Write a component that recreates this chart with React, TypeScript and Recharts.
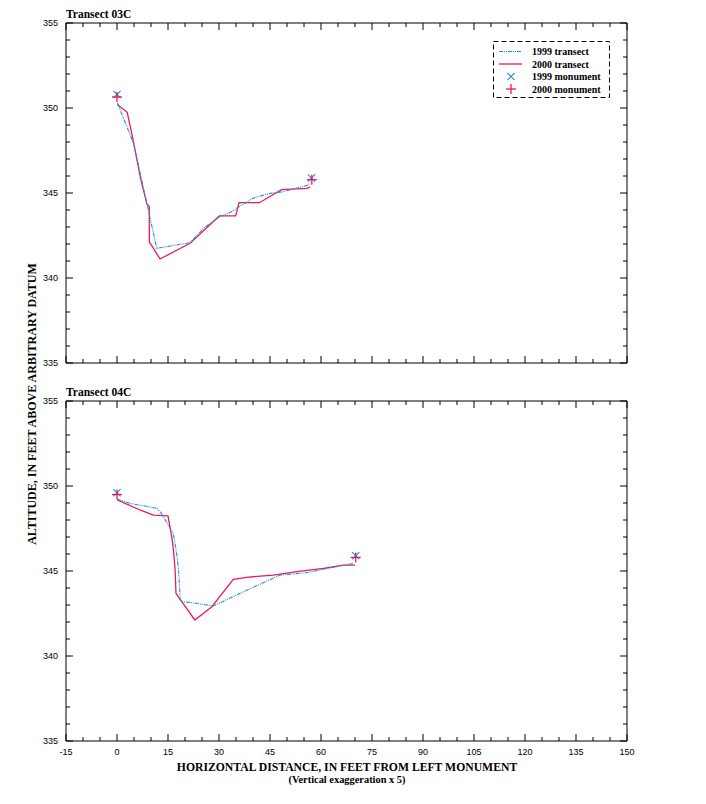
import React from "react";
import { ComposedChart, Line, Scatter, XAxis, YAxis, ReferenceArea } from "recharts";

// ---------- data ----------
const xTicks = [-15, -10, -5, 0, 5, 10, 15, 20, 25, 30, 35, 40, 45, 50, 55, 60, 65, 70, 75, 80, 85, 90, 95, 100, 105, 110, 115, 120, 125, 130, 135, 140, 145, 150];
const yTicks = [335, 336, 337, 338, 339, 340, 341, 342, 343, 344, 345, 346, 347, 348, 349, 350, 351, 352, 353, 354, 355];

const t03_1999 = [
  { x: 0.1, y: 350.3 }, { x: 4.9, y: 347.9 }, { x: 8.2, y: 344.9 }, { x: 11.7, y: 341.75 },
  { x: 21.5, y: 342.08 }, { x: 25.9, y: 343.0 }, { x: 30.3, y: 343.6 }, { x: 33.7, y: 343.9 },
  { x: 35.2, y: 344.1 }, { x: 40.1, y: 344.7 }, { x: 45.0, y: 344.98 }, { x: 48.9, y: 345.08 },
  { x: 53.8, y: 345.33 }, { x: 56.3, y: 345.47 }, { x: 56.7, y: 345.6 },
];
const t03_2000 = [
  { x: 0.1, y: 350.2 }, { x: 3.0, y: 349.75 }, { x: 4.3, y: 348.55 }, { x: 7.0, y: 345.8 },
  { x: 8.8, y: 344.35 }, { x: 9.5, y: 344.2 }, { x: 9.5, y: 342.1 }, { x: 9.9, y: 342.0 },
  { x: 12.65, y: 341.12 }, { x: 21.5, y: 342.04 }, { x: 30.1, y: 343.65 }, { x: 34.9, y: 343.65 },
  { x: 35.9, y: 344.43 }, { x: 41.9, y: 344.43 }, { x: 48.4, y: 345.2 }, { x: 55.8, y: 345.27 },
  { x: 56.8, y: 345.35 },
];
const m03_1999 = [{ x: 0, y: 350.8 }, { x: 57.2, y: 345.88 }];
const m03_2000 = [{ x: 0, y: 350.65 }, { x: 57.3, y: 345.78 }];

const t04_1999 = [
  { x: 0.1, y: 349.22 }, { x: 3.8, y: 348.98 }, { x: 11.7, y: 348.69 }, { x: 13.1, y: 348.39 },
  { x: 15.6, y: 347.51 }, { x: 16.6, y: 347.18 }, { x: 17.6, y: 345.94 }, { x: 18.1, y: 345.06 },
  { x: 18.6, y: 343.29 }, { x: 19.5, y: 343.19 }, { x: 23.4, y: 343.1 }, { x: 28.3, y: 342.94 },
  { x: 36.2, y: 343.69 }, { x: 47.9, y: 344.76 }, { x: 55.8, y: 344.9 }, { x: 60.7, y: 345.1 },
  { x: 64.6, y: 345.25 }, { x: 69.5, y: 345.45 },
];
const t04_2000 = [
  { x: 0.1, y: 349.18 }, { x: 6.76, y: 348.59 }, { x: 10.7, y: 348.29 }, { x: 15.0, y: 348.24 },
  { x: 15.3, y: 347.9 }, { x: 16.1, y: 347.02 }, { x: 16.6, y: 346.24 }, { x: 17.1, y: 345.06 },
  { x: 17.35, y: 343.69 }, { x: 18.0, y: 343.49 }, { x: 22.9, y: 342.12 }, { x: 27.9, y: 342.9 },
  { x: 34.2, y: 344.51 }, { x: 38.1, y: 344.63 }, { x: 46.0, y: 344.76 }, { x: 52.9, y: 344.96 },
  { x: 60.7, y: 345.16 }, { x: 66.6, y: 345.35 }, { x: 70.0, y: 345.35 },
];
const m04_1999 = [{ x: 0, y: 349.6 }, { x: 70.2, y: 345.9 }];
const m04_2000 = [{ x: 0, y: 349.5 }, { x: 70.2, y: 345.8 }];

const legendItems = ["1999 transect", "2000 transect", "1999 monument", "2000 monument"];

// ---------- style ----------
const BLUE = "#1a8fd6";
const RED = "#ec1862";
const DASH = "4 1 1 1 1 1";
const SERIF = "'Liberation Serif', 'Times New Roman', serif";
const SANS = "'Liberation Sans Narrow', 'Liberation Sans', Arial, sans-serif";
const PLOT_TOP = 23;
const PLOT_RIGHT = 627;

const XShape = (p: any) => {
  const { cx, cy } = p;
  const s = 3.6;
  return (
    <g stroke={BLUE} strokeWidth={1.1}>
      <line x1={cx - s} y1={cy - s} x2={cx + s} y2={cy + s} />
      <line x1={cx - s} y1={cy + s} x2={cx + s} y2={cy - s} />
    </g>
  );
};
const PlusShape = (p: any) => {
  const { cx, cy } = p;
  const s = 5;
  return (
    <g stroke={RED} strokeWidth={1.3}>
      <line x1={cx - s} y1={cy} x2={cx + s} y2={cy} />
      <line x1={cx} y1={cy - s} x2={cx} y2={cy + s} />
    </g>
  );
};

const makeXTick = (showLabels: boolean) => (p: any) => {
  const { x, y, payload } = p;
  const v = payload.value;
  const major = v % 15 === 0;
  const len = major ? 7 : 4;
  return (
    <g>
      <line x1={x} y1={y} x2={x} y2={y - len} stroke="#000" />
      <line x1={x} y1={PLOT_TOP} x2={x} y2={PLOT_TOP + len} stroke="#000" />
      {showLabels && major ? (
        <text x={x} y={y + 14} textAnchor="middle" fontFamily={SANS} fontSize={9} fill="#000">
          {v}
        </text>
      ) : null}
    </g>
  );
};

const YTick = (p: any) => {
  const { x, y, payload } = p;
  const v = payload.value;
  const major = v % 5 === 0;
  const len = major ? 7 : 4;
  return (
    <g>
      <line x1={x} y1={y} x2={x + len} y2={y} stroke="#000" />
      <line x1={PLOT_RIGHT} y1={y} x2={PLOT_RIGHT - len} y2={y} stroke="#000" />
      {major ? (
        <text x={x - 8} y={y + 3} textAnchor="end" fontFamily={SANS} fontSize={9} fill="#000">
          {v}
        </text>
      ) : null}
    </g>
  );
};

const Panel = ({ t1999, t2000, m1999, m2000, showX }: any) => (
  <ComposedChart width={706} height={400} margin={{ top: PLOT_TOP, right: 79, bottom: 7, left: 26 }}>
    <XAxis
      type="number"
      dataKey="x"
      domain={[-15, 150]}
      ticks={xTicks}
      interval={0}
      tickSize={0}
      tickMargin={0}
      axisLine={false}
      tickLine={false}
      height={30}
      tick={makeXTick(showX)}
      allowDataOverflow
    />
    <YAxis
      type="number"
      dataKey="y"
      domain={[335, 355]}
      ticks={yTicks}
      interval={0}
      tickSize={0}
      tickMargin={0}
      axisLine={false}
      tickLine={false}
      width={40}
      tick={YTick}
      allowDataOverflow
    />
    <ReferenceArea x1={-15} x2={150} y1={335} y2={355} fill="none" stroke="#000" strokeWidth={1} ifOverflow="visible" />
    <Line data={t2000} dataKey="y" type="linear" stroke={RED} strokeWidth={1.3} dot={false} isAnimationActive={false} />
    <Line data={t1999} dataKey="y" type="linear" stroke={BLUE} strokeWidth={1.1} strokeDasharray={DASH} dot={false} isAnimationActive={false} />
    <Scatter data={m1999} dataKey="y" shape={XShape} isAnimationActive={false} />
    <Scatter data={m2000} dataKey="y" shape={PlusShape} isAnimationActive={false} />
  </ComposedChart>
);

const Legend = () => (
  <svg width={120} height={60} style={{ position: "absolute", left: 492, top: 40 }}>
    <rect x={1.5} y={1.5} width={116} height={56} fill="#fff" stroke="#000" strokeDasharray="5 3" />
    {legendItems.map((label, i) => {
      const cy = 11.5 + i * 12.5;
      return (
        <g key={label}>
          {i === 0 && <line x1={7} y1={cy} x2={30} y2={cy} stroke={BLUE} strokeWidth={1.1} strokeDasharray={DASH} />}
          {i === 1 && <line x1={7} y1={cy} x2={30} y2={cy} stroke={RED} strokeWidth={1.3} />}
          {i === 2 && <XShape cx={19} cy={cy} />}
          {i === 3 && <PlusShape cx={19} cy={cy} />}
          <text x={40} y={cy + 3.5} fontFamily={SERIF} fontWeight="bold" fontSize={10} fill="#000">
            {label}
          </text>
        </g>
      );
    })}
  </svg>
);

export default function App() {
  return (
    <div style={{ position: "absolute", left: 0, top: 0, width: 706, height: 804, background: "#fff" }}>
      <div style={{ position: "absolute", left: 0, top: 0 }}>
        <Panel t1999={t03_1999} t2000={t03_2000} m1999={m03_1999} m2000={m03_2000} showX={false} />
      </div>
      <div style={{ position: "absolute", left: 0, top: 378 }}>
        <Panel t1999={t04_1999} t2000={t04_2000} m1999={m04_1999} m2000={m04_2000} showX={true} />
      </div>
      <Legend />
      <svg width={706} height={804} style={{ position: "absolute", left: 0, top: 0, pointerEvents: "none" }}>
        <text x={66} y={18} fontFamily={SERIF} fontWeight="bold" fontSize={11.5} fill="#000">Transect 03C</text>
        <text x={66} y={396} fontFamily={SERIF} fontWeight="bold" fontSize={11.5} fill="#000">Transect 04C</text>
        <text x={347} y={771} textAnchor="middle" fontFamily={SERIF} fontWeight="bold" fontSize={11.7} fill="#000">
          HORIZONTAL DISTANCE, IN FEET FROM LEFT MONUMENT
        </text>
        <text x={347} y={783} textAnchor="middle" fontFamily={SERIF} fontWeight="bold" fontSize={10.4} fill="#000">
          (Vertical exaggeration x 5)
        </text>
        <text x={36} y={404} textAnchor="middle" transform="rotate(-90 36 404)" fontFamily={SERIF} fontWeight="bold" fontSize={12} fill="#000">
          ALTITUDE, IN FEET ABOVE ARBITRARY DATUM
        </text>
    </svg>
    </div>
  );
}
